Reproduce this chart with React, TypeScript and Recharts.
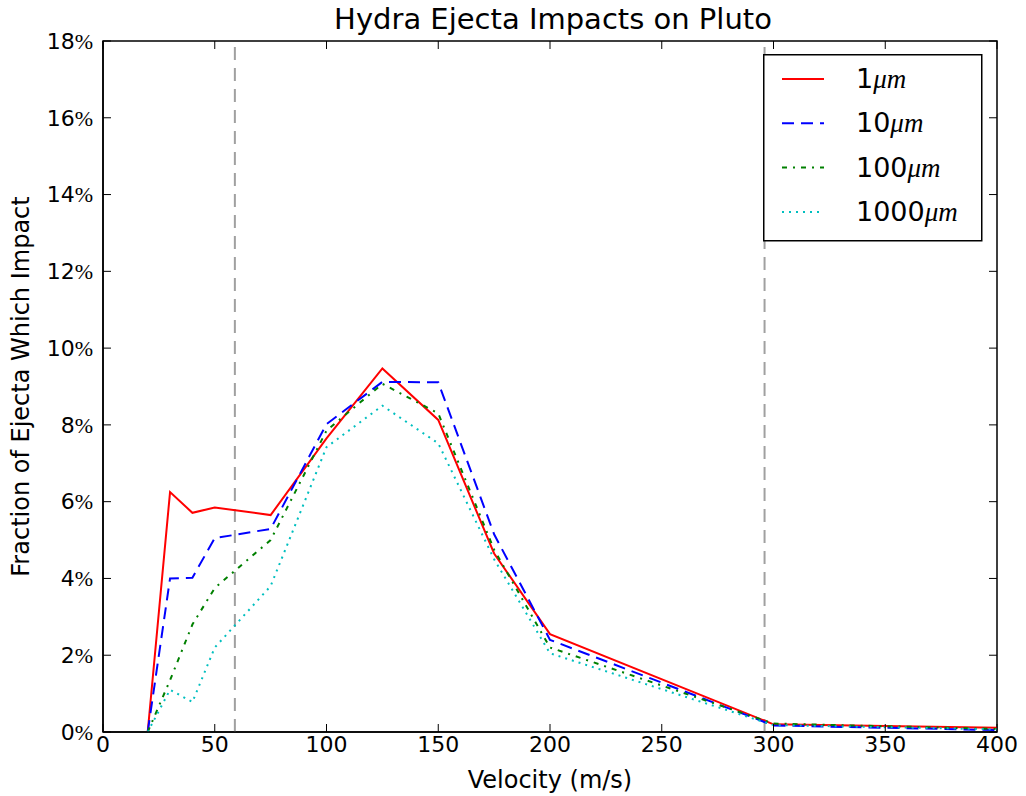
import { LineChart, Line, XAxis, YAxis, ReferenceLine, ReferenceArea, Legend } from 'recharts';

// launch velocity (m/s) and fraction of ejecta that impacts Pluto (%)
const velocities = [20, 30, 40, 50, 75, 100, 125, 150, 175, 200, 300, 400];
const frac1um = [0, 6.25, 5.71, 5.85, 5.65, 7.65, 9.47, 8.13, 4.65, 2.55, 0.2, 0.11];
const frac10um = [0, 4.0, 4.02, 5.05, 5.29, 8.02, 9.12, 9.11, 5.15, 2.4, 0.17, 0.05];
const frac100um = [0, 1.35, 2.8, 3.75, 5.0, 7.85, 9.07, 8.3, 4.75, 2.2, 0.22, 0.08];
const frac1000um = [0, 1.1, 0.78, 2.2, 3.8, 7.42, 8.5, 7.52, 4.5, 2.05, 0.18, 0.07];

const xTicks = [0, 50, 100, 150, 200, 250, 300, 350, 400];
const yTicks = [0, 2, 4, 6, 8, 10, 12, 14, 16, 18];
const markerVelocities = [59, 296];

const SERIES = [
  { key: 'um1', size: '1', color: '#ff0000', dash: undefined, values: frac1um },
  { key: 'um10', size: '10', color: '#0000ff', dash: '12 7', values: frac10um },
  { key: 'um100', size: '100', color: '#008000', dash: '5 6 2 6', values: frac100um },
  { key: 'um1000', size: '1000', color: '#00bfbf', dash: '2 5', values: frac1000um },
];

const data = velocities.map((v, i) => {
  const row: Record<string, number> = { v };
  SERIES.forEach((s) => {
    row[s.key] = s.values[i];
  });
  return row;
});

const W = 1026;
const H = 796;
const MARGIN = { top: 41, right: 29, bottom: 0, left: 0 };
const Y_AXIS_W = 103;
const X_AXIS_H = 64;
// plot box edges, used for the inward tick marks on all four sides
const PLOT = {
  left: MARGIN.left + Y_AXIS_W,
  right: W - MARGIN.right,
  top: MARGIN.top,
  bottom: H - MARGIN.bottom - X_AXIS_H,
};
const TICK = 8;

const FONT = '"DejaVu Sans", sans-serif';
const MATH = '"Liberation Serif", serif';

function VelocityTick({ x, y, payload }: any) {
  return (
    <g>
      <line x1={x} x2={x} y1={PLOT.bottom} y2={PLOT.bottom - TICK} stroke="#000" />
      <line x1={x} x2={x} y1={PLOT.top} y2={PLOT.top + TICK} stroke="#000" />
      <text x={x} y={y} dy="0.71em" textAnchor="middle" fontSize={22} fill="#000" fontFamily={FONT}>
        {payload.value}
      </text>
    </g>
  );
}

function PercentTick({ x, y, payload }: any) {
  return (
    <g>
      <line x1={PLOT.left} x2={PLOT.left + TICK} y1={y} y2={y} stroke="#000" />
      <line x1={PLOT.right} x2={PLOT.right - TICK} y1={y} y2={y} stroke="#000" />
      <text x={x} y={y} dy="0.355em" textAnchor="end" fontSize={22} fill="#000" fontFamily={FONT}>
        {payload.value}
        <tspan fontFamily={MATH}>%</tspan>
      </text>
    </g>
  );
}

function LegendBox() {
  return (
    <svg width={220} height={188} style={{ display: 'block' }}>
      <rect x={0.75} y={0.75} width={218} height={186} fill="#fff" stroke="#000" strokeWidth={1.5} />
      {SERIES.map((s, i) => {
        const cy = 25 + i * 44.3;
        return (
          <g key={s.key}>
            <line x1={19} x2={61} y1={cy} y2={cy} stroke={s.color} strokeWidth={2} strokeDasharray={s.dash} />
            <text x={93} y={cy + 9} fontSize={27} fill="#000" fontFamily={FONT}>
              {s.size}
              <tspan fontFamily={MATH} fontStyle="italic">μm</tspan>
            </text>
          </g>
        );
      })}
    </svg>
  );
}

export default function App() {
  return (
    <div style={{ position: 'absolute', left: 0, top: 0, width: W, height: H, background: '#fff', fontFamily: FONT }}>
      <svg width={W} height={40} style={{ position: 'absolute', left: 0, top: 0 }}>
        <text x={553} y={28.5} textAnchor="middle" fontSize={29} fill="#000" fontFamily={FONT}>
          Hydra Ejecta Impacts on Pluto
        </text>
      </svg>
      <LineChart width={W} height={H} data={data} margin={MARGIN}>
        <XAxis
          dataKey="v"
          type="number"
          domain={[0, 400]}
          ticks={xTicks}
          interval={0}
          height={X_AXIS_H}
          tickSize={0}
          tickMargin={4}
          axisLine={{ stroke: '#000', strokeWidth: 1.5 }}
          tickLine={false}
          tick={VelocityTick}
          label={{ value: 'Velocity (m/s)', position: 'insideBottom', offset: 8.5, fontSize: 24, fill: '#000', fontFamily: FONT }}
        />
        <YAxis
          type="number"
          domain={[0, 18]}
          ticks={yTicks}
          interval={0}
          width={Y_AXIS_W}
          tickSize={0}
          tickMargin={10}
          axisLine={{ stroke: '#000', strokeWidth: 1.5 }}
          tickLine={false}
          tick={PercentTick}
          label={{
            value: 'Fraction of Ejecta Which Impact',
            angle: -90,
            position: 'insideLeft',
            offset: 20,
            fontSize: 24,
            fill: '#000',
            fontFamily: FONT,
            style: { textAnchor: 'middle' },
          }}
        />
        <ReferenceArea x1={0} x2={400} y1={0} y2={18} fill="none" stroke="#000" strokeWidth={1.5} fillOpacity={0} />
        {markerVelocities.map((mv) => (
          <ReferenceLine key={mv} x={mv} stroke="#a0a0a0" strokeWidth={2} strokeDasharray="13 8" />
        ))}
        {SERIES.map((s) => (
          <Line
            key={s.key}
            type="linear"
            dataKey={s.key}
            name={s.size}
            stroke={s.color}
            strokeWidth={2}
            strokeDasharray={s.dash}
            dot={false}
            activeDot={false}
            isAnimationActive={false}
          />
        ))}
        <Legend
          layout="vertical"
          align="center"
          verticalAlign="middle"
          wrapperStyle={{ left: 763, top: 54, width: 220, height: 188 }}
          content={() => <LegendBox />}
        />
      </LineChart>
    </div>
  );
}
